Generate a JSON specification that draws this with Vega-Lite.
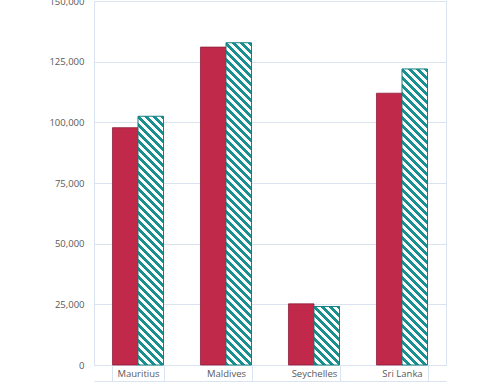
{
  "$schema": "https://vega.github.io/schema/vega-lite/v6.json",
  "width": 352,
  "height": 364,
  "autosize": "none",
  "padding": {"left": 94, "top": 1, "right": 54, "bottom": 18},
  "params": [
    {"name": "stripes", "value": [
{"offset":0,"color":"#17908f"},{"offset":0.0095,"color":"#17908f"},{"offset":0.0095,"color":"#fff"},{"offset":0.02,"color":"#fff"},
{"offset":0.02,"color":"#17908f"},{"offset":0.0295,"color":"#17908f"},{"offset":0.0295,"color":"#fff"},{"offset":0.04,"color":"#fff"},
{"offset":0.04,"color":"#17908f"},{"offset":0.0495,"color":"#17908f"},{"offset":0.0495,"color":"#fff"},{"offset":0.06,"color":"#fff"},
{"offset":0.06,"color":"#17908f"},{"offset":0.0695,"color":"#17908f"},{"offset":0.0695,"color":"#fff"},{"offset":0.08,"color":"#fff"},
{"offset":0.08,"color":"#17908f"},{"offset":0.0895,"color":"#17908f"},{"offset":0.0895,"color":"#fff"},{"offset":0.1,"color":"#fff"},
{"offset":0.1,"color":"#17908f"},{"offset":0.1095,"color":"#17908f"},{"offset":0.1095,"color":"#fff"},{"offset":0.12,"color":"#fff"},
{"offset":0.12,"color":"#17908f"},{"offset":0.1295,"color":"#17908f"},{"offset":0.1295,"color":"#fff"},{"offset":0.14,"color":"#fff"},
{"offset":0.14,"color":"#17908f"},{"offset":0.1495,"color":"#17908f"},{"offset":0.1495,"color":"#fff"},{"offset":0.16,"color":"#fff"},
{"offset":0.16,"color":"#17908f"},{"offset":0.1695,"color":"#17908f"},{"offset":0.1695,"color":"#fff"},{"offset":0.18,"color":"#fff"},
{"offset":0.18,"color":"#17908f"},{"offset":0.1895,"color":"#17908f"},{"offset":0.1895,"color":"#fff"},{"offset":0.2,"color":"#fff"},
{"offset":0.2,"color":"#17908f"},{"offset":0.2095,"color":"#17908f"},{"offset":0.2095,"color":"#fff"},{"offset":0.22,"color":"#fff"},
{"offset":0.22,"color":"#17908f"},{"offset":0.2295,"color":"#17908f"},{"offset":0.2295,"color":"#fff"},{"offset":0.24,"color":"#fff"},
{"offset":0.24,"color":"#17908f"},{"offset":0.2495,"color":"#17908f"},{"offset":0.2495,"color":"#fff"},{"offset":0.26,"color":"#fff"},
{"offset":0.26,"color":"#17908f"},{"offset":0.2695,"color":"#17908f"},{"offset":0.2695,"color":"#fff"},{"offset":0.28,"color":"#fff"},
{"offset":0.28,"color":"#17908f"},{"offset":0.2895,"color":"#17908f"},{"offset":0.2895,"color":"#fff"},{"offset":0.3,"color":"#fff"},
{"offset":0.3,"color":"#17908f"},{"offset":0.3095,"color":"#17908f"},{"offset":0.3095,"color":"#fff"},{"offset":0.32,"color":"#fff"},
{"offset":0.32,"color":"#17908f"},{"offset":0.3295,"color":"#17908f"},{"offset":0.3295,"color":"#fff"},{"offset":0.34,"color":"#fff"},
{"offset":0.34,"color":"#17908f"},{"offset":0.3495,"color":"#17908f"},{"offset":0.3495,"color":"#fff"},{"offset":0.36,"color":"#fff"},
{"offset":0.36,"color":"#17908f"},{"offset":0.3695,"color":"#17908f"},{"offset":0.3695,"color":"#fff"},{"offset":0.38,"color":"#fff"},
{"offset":0.38,"color":"#17908f"},{"offset":0.3895,"color":"#17908f"},{"offset":0.3895,"color":"#fff"},{"offset":0.4,"color":"#fff"},
{"offset":0.4,"color":"#17908f"},{"offset":0.4095,"color":"#17908f"},{"offset":0.4095,"color":"#fff"},{"offset":0.42,"color":"#fff"},
{"offset":0.42,"color":"#17908f"},{"offset":0.4295,"color":"#17908f"},{"offset":0.4295,"color":"#fff"},{"offset":0.44,"color":"#fff"},
{"offset":0.44,"color":"#17908f"},{"offset":0.4495,"color":"#17908f"},{"offset":0.4495,"color":"#fff"},{"offset":0.46,"color":"#fff"},
{"offset":0.46,"color":"#17908f"},{"offset":0.4695,"color":"#17908f"},{"offset":0.4695,"color":"#fff"},{"offset":0.48,"color":"#fff"},
{"offset":0.48,"color":"#17908f"},{"offset":0.4895,"color":"#17908f"},{"offset":0.4895,"color":"#fff"},{"offset":0.5,"color":"#fff"},
{"offset":0.5,"color":"#17908f"},{"offset":0.5095,"color":"#17908f"},{"offset":0.5095,"color":"#fff"},{"offset":0.52,"color":"#fff"},
{"offset":0.52,"color":"#17908f"},{"offset":0.5295,"color":"#17908f"},{"offset":0.5295,"color":"#fff"},{"offset":0.54,"color":"#fff"},
{"offset":0.54,"color":"#17908f"},{"offset":0.5495,"color":"#17908f"},{"offset":0.5495,"color":"#fff"},{"offset":0.56,"color":"#fff"},
{"offset":0.56,"color":"#17908f"},{"offset":0.5695,"color":"#17908f"},{"offset":0.5695,"color":"#fff"},{"offset":0.58,"color":"#fff"},
{"offset":0.58,"color":"#17908f"},{"offset":0.5895,"color":"#17908f"},{"offset":0.5895,"color":"#fff"},{"offset":0.6,"color":"#fff"},
{"offset":0.6,"color":"#17908f"},{"offset":0.6095,"color":"#17908f"},{"offset":0.6095,"color":"#fff"},{"offset":0.62,"color":"#fff"},
{"offset":0.62,"color":"#17908f"},{"offset":0.6295,"color":"#17908f"},{"offset":0.6295,"color":"#fff"},{"offset":0.64,"color":"#fff"},
{"offset":0.64,"color":"#17908f"},{"offset":0.6495,"color":"#17908f"},{"offset":0.6495,"color":"#fff"},{"offset":0.66,"color":"#fff"},
{"offset":0.66,"color":"#17908f"},{"offset":0.6695,"color":"#17908f"},{"offset":0.6695,"color":"#fff"},{"offset":0.68,"color":"#fff"},
{"offset":0.68,"color":"#17908f"},{"offset":0.6895,"color":"#17908f"},{"offset":0.6895,"color":"#fff"},{"offset":0.7,"color":"#fff"},
{"offset":0.7,"color":"#17908f"},{"offset":0.7095,"color":"#17908f"},{"offset":0.7095,"color":"#fff"},{"offset":0.72,"color":"#fff"},
{"offset":0.72,"color":"#17908f"},{"offset":0.7295,"color":"#17908f"},{"offset":0.7295,"color":"#fff"},{"offset":0.74,"color":"#fff"},
{"offset":0.74,"color":"#17908f"},{"offset":0.7495,"color":"#17908f"},{"offset":0.7495,"color":"#fff"},{"offset":0.76,"color":"#fff"},
{"offset":0.76,"color":"#17908f"},{"offset":0.7695,"color":"#17908f"},{"offset":0.7695,"color":"#fff"},{"offset":0.78,"color":"#fff"},
{"offset":0.78,"color":"#17908f"},{"offset":0.7895,"color":"#17908f"},{"offset":0.7895,"color":"#fff"},{"offset":0.8,"color":"#fff"},
{"offset":0.8,"color":"#17908f"},{"offset":0.8095,"color":"#17908f"},{"offset":0.8095,"color":"#fff"},{"offset":0.82,"color":"#fff"},
{"offset":0.82,"color":"#17908f"},{"offset":0.8295,"color":"#17908f"},{"offset":0.8295,"color":"#fff"},{"offset":0.84,"color":"#fff"},
{"offset":0.84,"color":"#17908f"},{"offset":0.8495,"color":"#17908f"},{"offset":0.8495,"color":"#fff"},{"offset":0.86,"color":"#fff"},
{"offset":0.86,"color":"#17908f"},{"offset":0.8695,"color":"#17908f"},{"offset":0.8695,"color":"#fff"},{"offset":0.88,"color":"#fff"},
{"offset":0.88,"color":"#17908f"},{"offset":0.8895,"color":"#17908f"},{"offset":0.8895,"color":"#fff"},{"offset":0.9,"color":"#fff"},
{"offset":0.9,"color":"#17908f"},{"offset":0.9095,"color":"#17908f"},{"offset":0.9095,"color":"#fff"},{"offset":0.92,"color":"#fff"},
{"offset":0.92,"color":"#17908f"},{"offset":0.9295,"color":"#17908f"},{"offset":0.9295,"color":"#fff"},{"offset":0.94,"color":"#fff"},
{"offset":0.94,"color":"#17908f"},{"offset":0.9495,"color":"#17908f"},{"offset":0.9495,"color":"#fff"},{"offset":0.96,"color":"#fff"},
{"offset":0.96,"color":"#17908f"},{"offset":0.9695,"color":"#17908f"},{"offset":0.9695,"color":"#fff"},{"offset":0.98,"color":"#fff"},
{"offset":0.98,"color":"#17908f"},{"offset":0.9895,"color":"#17908f"},{"offset":0.9895,"color":"#fff"},{"offset":1,"color":"#fff"}
    ]}
  ],
  "data": {"values": [
    {"country": "Mauritius", "series": "S1", "value": 97800},
    {"country": "Mauritius", "series": "S2", "value": 102500},
    {"country": "Maldives", "series": "S1", "value": 131000},
    {"country": "Maldives", "series": "S2", "value": 132800},
    {"country": "Seychelles", "series": "S1", "value": 25200},
    {"country": "Seychelles", "series": "S2", "value": 24100},
    {"country": "Sri Lanka", "series": "S1", "value": 112000},
    {"country": "Sri Lanka", "series": "S2", "value": 122000}
  ]},
  "encoding": {
    "x": {
      "field": "country", "type": "nominal",
      "sort": ["Mauritius", "Maldives", "Seychelles", "Sri Lanka"],
      "scale": {"paddingInner": 0.42, "paddingOuter": 0.21},
      "axis": {
        "title": null, "labelAngle": 0, "offset": 16,
        "domainColor": "#dae4f1", "tickColor": "#dae4f1",
        "tickBand": "extent", "tickSize": -16,
        "labelPadding": 3, "labelBaseline": "top",
        "labelFont": "Open Sans", "labelFontSize": 9.5, "labelColor": "#595959",
        "grid": false
      }
    },
    "xOffset": {"field": "series", "type": "nominal", "scale": {"domain": ["S1", "S2"], "paddingInner": 0, "paddingOuter": 0}},
    "y": {
      "field": "value", "type": "quantitative",
      "scale": {"domain": [0, 150000], "nice": false},
      "axis": {
        "title": null, "values": [0, 25000, 50000, 75000, 100000, 125000, 150000],
        "format": ",d", "domain": false, "ticks": false, "labelPadding": 10,
        "labelFont": "Open Sans", "labelFontSize": 9.5, "labelColor": "#595959",
        "gridColor": "#dae4f1", "gridOpacity": 1
      }
    }
  },
  "layer": [
    {"transform": [{"filter": "datum.series === 'S1'"}],
     "mark": {"type": "bar", "fill": "#c1294b", "stroke": "#8e1f3a", "strokeWidth": 0.8}},
    {"transform": [{"filter": "datum.series === 'S2' && datum.country === 'Mauritius'"}],
     "mark": {"type": "bar", "stroke": "#157f80", "strokeWidth": 1,
       "fill": {"expr": "{gradient: 'linear', x1: 1, y1: 0, x2: 0.83671, y2: 1.59142, stops: stripes}"}}},
    {"transform": [{"filter": "datum.series === 'S2' && datum.country === 'Maldives'"}],
     "mark": {"type": "bar", "stroke": "#157f80", "strokeWidth": 1,
       "fill": {"expr": "{gradient: 'linear', x1: 1, y1: 0, x2: 0.90232, y2: 1.23349, stops: stripes}"}}},
    {"transform": [{"filter": "datum.series === 'S2' && datum.country === 'Seychelles'"}],
     "mark": {"type": "bar", "stroke": "#157f80", "strokeWidth": 1,
       "fill": {"expr": "{gradient: 'linear', x1: 1, y1: 0, x2: -1.50731, y2: 5.74558, stops: stripes}"}}},
    {"transform": [{"filter": "datum.series === 'S2' && datum.country === 'Sri Lanka'"}],
     "mark": {"type": "bar", "stroke": "#157f80", "strokeWidth": 1,
       "fill": {"expr": "{gradient: 'linear', x1: 1, y1: 0, x2: 0.88439, y2: 1.34115, stops: stripes}"}}}
  ],
  "config": {
    "font": "Open Sans",
    "view": {"stroke": "#dae4f1"},
    "background": "#ffffff"
  }
}
